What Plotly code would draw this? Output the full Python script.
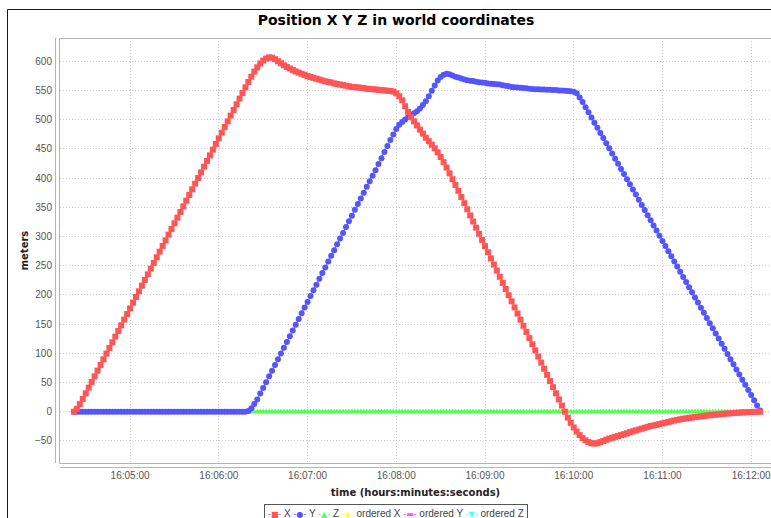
import pandas as pd
import plotly.graph_objects as go

W, H = 771, 518

# Sampling of the position log (one sample every 2 s)
SAMPLE_START = "2012-06-14 16:04:22"
SAMPLE_STEP = "2s"

# X position (m)
x_vals = [
    0, 5, 13, 21.8, 31.5, 41.2, 50.9, 60.6, 70.3, 80.0,
    89.7, 99.4, 109.1, 118.8, 128.5, 138.2, 147.9, 157.6, 167.3, 177.0,
    186.7, 196.4, 206.1, 215.8, 225.5, 235.2, 244.9, 254.6, 264.3, 274.0,
    283.7, 293.4, 303.1, 312.8, 322.5, 332.2, 341.9, 351.6, 361.3, 371.0,
    380.7, 390.4, 400.1, 409.8, 419.5, 429.2, 438.9, 448.6, 458.3, 468.0,
    477.7, 487.4, 497.1, 506.8, 516.5, 526.2, 535.9, 545.6, 555.3, 564.5,
    573.5, 582, 589.5, 596, 601, 604.5, 606.5, 606, 603.5, 600,
    596.5, 593, 590, 587.5, 585, 582.5, 580.5, 578.5, 576.5, 574.5,
    573, 571.5, 570, 568.5, 567, 565.5, 564.5, 563.5, 562, 561,
    560, 559, 558, 557, 556, 555.5, 555, 554.5, 554, 553,
    552.5, 552, 551.5, 551, 550.5, 550, 549.5, 549, 548, 545,
    540, 533, 523, 513, 504, 497, 490, 483, 476, 469,
    463, 457, 451, 444, 436, 427, 418, 408, 398, 388,
    378, 367.5, 357, 346.5, 336, 325.5, 315, 304.5, 294, 283.5,
    273, 262.5, 252, 241.5, 231, 220.5, 210, 199.5, 189, 178.5,
    168, 157.5, 147, 136.5, 126, 115.5, 105, 94.5, 84, 73.5,
    63, 52.5, 42, 31.5, 21, 10.5, 0, -10, -19, -27,
    -34, -40, -45, -49, -52, -54, -54.5, -54, -52, -50,
    -48, -46, -44.5, -43, -41.5, -40, -38.5, -37, -35, -33.5,
    -32, -30.5, -29, -27.5, -26, -24.5, -23.5, -22.5, -21, -20,
    -19, -17.5, -16.5, -15, -14, -13, -12, -11.5, -10.5, -10,
    -9, -8.5, -8, -7.5, -6.5, -6, -5.5, -5, -4.5, -4,
    -3.5, -3, -2.7, -2.3, -2, -1.6, -1.3, -1, -0.7, -0.5,
    -0.3, -0.1, 0,
]

# Y position (m)
y_vals = [
    0, 0, 0, 0, 0, 0, 0, 0, 0, 0,
    0, 0, 0, 0, 0, 0, 0, 0, 0, 0,
    0, 0, 0, 0, 0, 0, 0, 0, 0, 0,
    0, 0, 0, 0, 0, 0, 0, 0, 0, 0,
    0, 0, 0, 0, 0, 0, 0, 0, 0, 0,
    0, 0, 0, 0, 0, 0, 0, 0, 0,
    1, 6, 13, 21, 31, 40.5, 50.5, 60.5, 70, 80,
    90, 99.5, 109.5, 119.5, 129, 139, 149, 158.5, 168.5, 178.5,
    188, 198, 208, 217.5, 227.5, 237.5, 247, 257, 267, 276.5,
    286.5, 296.5, 306, 316, 326, 335.5, 345.5, 355.5, 365, 375,
    385, 394.5, 404, 413.5, 424, 434, 444.5, 455, 465, 474.5,
    484, 491, 496, 500, 504, 508, 511, 514.5, 519, 525,
    531.5, 540, 549.5, 558.5, 567, 573, 577, 578.5, 577.5, 575.5,
    573.5, 572, 570.5, 568.5, 567.5, 566.5, 566, 565, 564, 563.5,
    563, 562, 561.5, 561, 560.5, 560, 559, 558, 557, 556,
    555.5, 555, 554.5, 554, 553.5, 553, 552.5, 552, 552, 551.5,
    551.5, 551, 551, 550.5, 550.5, 550, 550, 549.5, 549, 548.5,
    547.5, 545, 538, 530,
    521.2, 512.4, 503.6, 494.8, 486, 477.2, 468.4, 459.6, 450.8, 442,
    433.2, 424.4, 415.6, 406.8, 398, 389.2, 380.4, 371.6, 362.8, 354,
    345.2, 336.4, 327.6, 318.8, 310, 301.2, 292.4, 283.6, 274.8, 266,
    257.2, 248.4, 239.6, 230.8, 222, 213.2, 204.4, 195.6, 186.8, 178,
    169.2, 160.4, 151.6, 142.8, 134, 125.2, 116.4, 107.6, 98.8, 90,
    81.2, 72.4, 63.6, 54.8, 46, 37.2, 28.4, 19.6, 10.8, 2,
]

# Z position (m): stays on the ground plane for the whole run
z_vals = [0.0] * len(x_vals)

series_names = ["X", "Y", "Z", "ordered X", "ordered Y", "ordered Z"]
series_colors = ["#FF5555", "#5555FF", "#55FF55", "#FFFF55", "#FF55FF", "#55FFFF"]
series_symbols = ["square", "circle", "triangle-up"]
legend_glyphs = ["\u25A0", "\u25CF", "\u25B2", "\u25C6", "\u25AC", "\u25BC"]

X_RANGE = ["2012-06-14 16:04:12.6", "2012-06-14 16:12:13.4"]
X_TICK0 = "2012-06-14 16:05:00"
Y_RANGE = [-87.8, 639.7]
Y_DTICK = 50

TITLE = "Position X Y Z in world coordinates"
X_TITLE = "time (hours:minutes:seconds)"
Y_TITLE = "meters"

# plot frame in pixels
PL, PR, PT, PB = 60, W, 38, 463


def px(xp):
    return xp / W


def py(yp):
    return 1 - yp / H


def times(n):
    return pd.date_range(SAMPLE_START, periods=n, freq=SAMPLE_STEP)


fig = go.Figure()

# draw Z first so that X ends up on top
data = [x_vals, y_vals, z_vals]
for i in [2, 1, 0]:
    vals = data[i]
    fig.add_trace(go.Scatter(
        x=times(len(vals)), y=vals, name=series_names[i],
        mode="lines+markers",
        line=dict(color=series_colors[i], width=1),
        marker=dict(color=series_colors[i], size=6, symbol=series_symbols[i],
                    line=dict(width=0)),
        showlegend=False,
    ))

tick_font = dict(family="Liberation Sans, Arial, sans-serif", size=10, color="#555555")
grid = dict(showgrid=True, gridcolor="#cfcfcf", griddash="1px,2px", gridwidth=1,
            zeroline=False, showline=False, ticks="", automargin=False,
            ticklabeloverflow="allow")

fig.update_layout(
    width=W, height=H,
    margin=dict(l=0, r=0, t=0, b=0),
    paper_bgcolor="white", plot_bgcolor="white",
    showlegend=False,
    title=dict(text=TITLE, xref="container", yref="container",
               x=396 / W, y=py(20), xanchor="center", yanchor="middle",
               font=dict(family="DejaVu Sans", size=14, color="#000000", weight="bold")),
    xaxis=dict(domain=[px(PL), px(PR)], type="date", range=X_RANGE,
               tick0=X_TICK0, dtick=60000, tickformat="%H:%M:%S",
               tickfont=tick_font, ticklabelstandoff=5,
               title=dict(text=X_TITLE, standoff=8,
                          font=dict(family="DejaVu Sans", size=10, color="#222222",
                                    weight="bold")),
               **grid),
    yaxis=dict(domain=[py(PB), py(PT)], range=Y_RANGE, tick0=0, dtick=Y_DTICK,
               tickfont=tick_font, ticklabelstandoff=7,
               title=dict(text=Y_TITLE, standoff=4,
                          font=dict(family="DejaVu Sans", size=10, color="#222222",
                                    weight="bold")),
               **grid),
)

shapes = []
# range crosshair at zero
shapes.append(dict(type="line", xref="paper", yref="y", x0=px(PL), x1=1, y0=0, y1=0,
                   line=dict(color="#a8a8ff", width=1, dash="1px,2px"), layer="below"))
# plot outline
shapes.append(dict(type="rect", xref="paper", yref="paper",
                   x0=px(PL - 0.5), x1=px(PR + 10), y0=py(PB + 0.5), y1=py(PT + 0.5),
                   line=dict(color="#b4b4b4", width=1), layer="above"))
# offset axis lines
shapes.append(dict(type="line", xref="paper", yref="paper",
                   x0=px(55.5), x1=px(55.5), y0=py(PB), y1=py(PT),
                   line=dict(color="#b4b4b4", width=1), layer="above"))
shapes.append(dict(type="line", xref="paper", yref="paper",
                   x0=px(PL), x1=px(PR), y0=py(467.5), y1=py(467.5),
                   line=dict(color="#b4b4b4", width=1), layer="above"))
# chart border
shapes.append(dict(type="line", xref="paper", yref="paper",
                   x0=px(7.5), x1=px(7.5), y0=0, y1=py(9.5),
                   line=dict(color="#0000CC", width=1), layer="above"))
shapes.append(dict(type="line", xref="paper", yref="paper",
                   x0=px(7.5), x1=1, y0=py(9.5), y1=py(9.5),
                   line=dict(color="#0000CC", width=1), layer="above"))
fig.update_layout(shapes=shapes)

# series key below the chart
items = []
for name, color, glyph in zip(series_names, series_colors, legend_glyphs):
    items.append(
        f'<span style="color:{color};font-family:DejaVu Sans;font-size:8px">-{glyph}-</span>'
        f' {name}'
    )
fig.add_annotation(
    text=" ".join(items), xref="paper", yref="paper",
    x=396 / W, y=py(504), xanchor="center", yanchor="top", showarrow=False,
    font=dict(family="Liberation Sans, Arial, sans-serif", size=10, color="#444444"),
    bordercolor="#555555", borderwidth=1, borderpad=3, bgcolor="white",
)

fig.write_html("out.html")
